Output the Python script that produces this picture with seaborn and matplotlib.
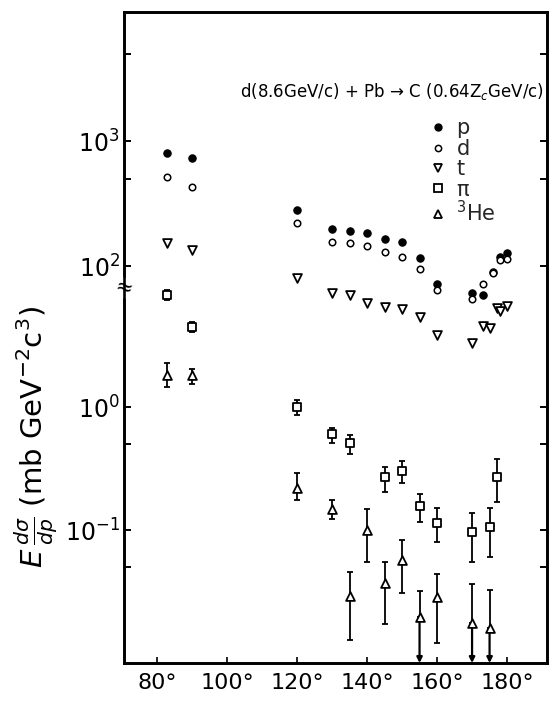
import numpy as np
import pandas as pd
import matplotlib
matplotlib.use("Agg")
import matplotlib.pyplot as plt
import seaborn as sns
from matplotlib.ticker import FixedLocator, NullFormatter, FixedFormatter
from matplotlib.lines import Line2D

# ---------------- data ----------------
p_angle = [83, 90, 120, 130, 135, 140, 145, 150, 155, 160, 170, 173, 176, 178, 180]
p_value = [800, 730, 280, 198, 190, 184, 164, 156, 116, 72, 61, 59, 90, 118, 127]

d_angle = [83, 90, 120, 130, 135, 140, 145, 150, 155, 160, 170, 173, 176, 178, 180]
d_value = [515, 428, 221, 156, 153, 145, 129, 118, 95, 64, 54, 72, 88, 112, 114]

t_angle = [83, 90, 120, 130, 135, 140, 145, 150, 155, 160, 170, 173, 175, 177, 178, 180]
t_value = [153, 134, 80, 61, 59, 51, 47, 45, 39, 28, 24, 33, 32, 46, 44, 48]

pi_angle = [83, 90, 120, 130, 135, 145, 150, 155, 160, 170, 175, 177]
pi_value = [8.1, 4.5, 1.0, 0.60, 0.51, 0.27, 0.30, 0.157, 0.114, 0.096, 0.106, 0.27]
pi_high = [8.9, 4.9, 1.14, 0.675, 0.59, 0.325, 0.364, 0.196, 0.151, 0.137, 0.151, 0.378]
pi_low = [7.4, 4.07, 0.86, 0.51, 0.415, 0.204, 0.241, 0.116, 0.080, 0.055, 0.060, 0.169]

he_angle = [83, 90, 120, 130, 135, 140, 145, 150, 155, 160, 170, 175]
he_value = [1.82, 1.82, 0.22, 0.148, 0.029, 0.100, 0.037, 0.057, 0.0196, 0.0285, 0.0175, 0.016]
he_high = [2.28, 2.04, 0.29, 0.175, 0.0456, 0.148, 0.055, 0.083, 0.0319, 0.0439, 0.0364, 0.0325]
he_low = [1.45, 1.54, 0.175, 0.123, 0.0128, 0.055, 0.0172, 0.031, 0.0196, 0.0121, 0.0175, 0.016]
he_upper_limit = [False, False, False, False, False, False, False, False, True, False, True, True]

x_ticks = [80, 100, 120, 140, 160, 180]
x_labels = ["80°", "100°", "120°", "140°", "160°", "180°"]
upper_major = [1e2, 1e3]
upper_labels = ["$10^2$", "$10^3$"]
upper_minor = [5e2, 5e3]
lower_major = [1e-1, 1e0]
lower_labels = ["$10^{-1}$", "$10^0$"]
lower_minor = [0.05, 0.5]

title_text = "d(8.6GeV/c) + Pb → C (0.64Z$_c$GeV/c)"
ylabel_text = r"$E\,\frac{d\sigma}{dp}$ (mb GeV$^{-2}$c$^{3}$)"

# ---------------- figure ----------------
sns.set_theme(style="white")
plt.rcParams["font.family"] = ["DejaVu Sans"]
plt.rcParams["mathtext.fontset"] = "dejavusans"

fig = plt.figure(figsize=(5.5, 7.04), dpi=100)
fig.patch.set_facecolor("white")
ax = fig.add_axes([124 / 550, 1 - 663 / 704, (547 - 124) / 550, (663 - 12) / 704])
ax.set_facecolor("white")
ax2 = ax.twinx()

ax.set_yscale("log")
ax2.set_yscale("log")
ax.set_xlim(70.6, 191.4)
ax.set_ylim(10 ** -1.176, 10 ** 4.032)
ax2.set_ylim(10 ** -2.081, 10 ** 3.211)

K = "black"
# upper-scale species
sns.scatterplot(x=p_angle, y=p_value, ax=ax, marker="o", s=28, color=K,
                edgecolor=K, linewidth=0.8, zorder=3)
sns.scatterplot(x=d_angle, y=d_value, ax=ax, marker="o", s=22, facecolor="white",
                edgecolor=K, linewidth=1.1, zorder=3)
sns.scatterplot(x=t_angle, y=t_value, ax=ax, marker="v", s=40, facecolor="white",
                edgecolor=K, linewidth=1.3, zorder=3)

# lower-scale species with error bars
pi_v = np.array(pi_value)
ax2.errorbar(pi_angle, pi_v, yerr=[pi_v - np.array(pi_low), np.array(pi_high) - pi_v],
             fmt="none", ecolor=K, elinewidth=1.3, capsize=2.5, capthick=1.3, zorder=2)
sns.scatterplot(x=pi_angle, y=pi_value, ax=ax2, marker="s", s=34, facecolor="white",
                edgecolor=K, linewidth=1.3, zorder=3)

he_v = np.array(he_value)
ax2.errorbar(he_angle, he_v, yerr=[he_v - np.array(he_low), np.array(he_high) - he_v],
             fmt="none", ecolor=K, elinewidth=1.3, capsize=2.5, capthick=1.3, zorder=2)
ymin2 = ax2.get_ylim()[0]
for a, v, lim in zip(he_angle, he_value, he_upper_limit):
    if lim:
        ax2.annotate("", xy=(a, ymin2), xytext=(a, v),
                     arrowprops=dict(arrowstyle="-|>", color=K, lw=1.6,
                                     mutation_scale=8, shrinkA=0, shrinkB=0))
sns.scatterplot(x=he_angle, y=he_value, ax=ax2, marker="^", s=40, facecolor="white",
                edgecolor=K, linewidth=1.3, zorder=3)

# ---------------- axes styling ----------------
for a_ in (ax, ax2):
    for s in a_.spines.values():
        s.set_linewidth(1.9)
        s.set_color(K)
    a_.grid(False)

ax.xaxis.set_major_locator(FixedLocator(x_ticks))
ax.xaxis.set_major_formatter(FixedFormatter(x_labels))
ax.tick_params(axis="x", direction="in", length=4, width=1.2, labelsize=16, pad=7,
               bottom=True, top=False, colors=K)

ax.yaxis.set_major_locator(FixedLocator(upper_major))
ax.yaxis.set_major_formatter(FixedFormatter(upper_labels))
ax.yaxis.set_minor_locator(FixedLocator(upper_minor))
ax.yaxis.set_minor_formatter(NullFormatter())
ax.tick_params(axis="y", which="both", direction="in", length=5, width=1.4,
               left=True, right=True, labelleft=True, labelright=False,
               labelsize=17, pad=3, colors=K)

ax2.yaxis.set_major_locator(FixedLocator(lower_major))
ax2.yaxis.set_major_formatter(FixedFormatter(lower_labels))
ax2.yaxis.set_minor_locator(FixedLocator(lower_minor))
ax2.yaxis.set_minor_formatter(NullFormatter())
ax2.tick_params(axis="y", which="both", direction="in", length=5, width=1.4,
                left=True, right=True, labelleft=True, labelright=False,
                labelsize=17, pad=3, colors=K)
ax2.set_ylabel("")
ax.set_ylabel("")
ax.set_xlabel("")

# axis break mark on the left spine
ax.text(0.0, (663 - 288) / 651, "≈", transform=ax.transAxes, ha="center", va="center",
        fontsize=15, rotation=-15, color=K, zorder=5,
        bbox=dict(boxstyle="square,pad=0.0", fc="white", ec="none"))

# title / reaction annotation
fig.text(240 / 550, 1 - 92 / 704, title_text, ha="left", va="center", fontsize=12, color=K)

# y label
fig.text(36 / 550, 1 - 437 / 704, ylabel_text, rotation=90, ha="center", va="center",
         fontsize=21, color=K)

# legend
handles = [
    Line2D([], [], ls="none", marker="o", ms=5, mfc=K, mec=K),
    Line2D([], [], ls="none", marker="o", ms=4.5, mfc="white", mec=K, mew=1.1),
    Line2D([], [], ls="none", marker="v", ms=6, mfc="white", mec=K, mew=1.3),
    Line2D([], [], ls="none", marker="s", ms=5.5, mfc="white", mec=K, mew=1.3),
    Line2D([], [], ls="none", marker="^", ms=6, mfc="white", mec=K, mew=1.3),
]
labels = ["p", "d", "t", "π", "$^3$He"]
fig.legend(handles, labels, loc="upper left", bbox_to_anchor=(419 / 550, 1 - 108 / 704),
           frameon=False, fontsize=15, handlelength=0.8, handletextpad=0.5,
           labelspacing=0.02, borderpad=0.0)

fig.savefig("out.png", dpi=100, facecolor="white")
